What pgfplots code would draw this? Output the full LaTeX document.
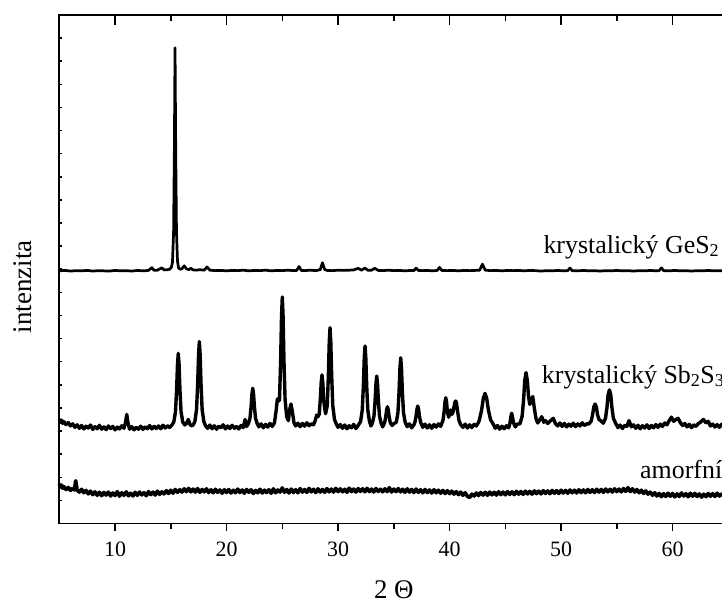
\documentclass[border=0pt]{standalone}
\usepackage{fontspec}
\setmainfont{Liberation Serif}
\usepackage{pgfplots}
\pgfplotsset{compat=1.18}
\pgfplotsset{
  common/.style={
    at={(59.3bp,80.5bp)}, anchor=south west,
    scale only axis, width=669bp, height=508.5bp,
    xmin=5, xmax=65, ymin=0, ymax=22, enlargelimits=false,
    axis line style={line width=1.6bp},
    every tick/.style={black, line width=1.5bp},
    /pgf/number format/assume math mode=true,
  }
}
\begin{document}
\begin{tikzpicture}
\useasboundingbox (0,0) rectangle (722bp,604bp);
\clip (0,0) rectangle (722bp,604bp);
% main axis with data and left ticks
\begin{axis}[common,
  xtick=\empty,
  ytick={1,...,21}, yticklabels={}, ytick pos=left, tick align=inside,
  major tick length=3bp,
  ylabel={intenzita},
  ylabel style={at={(rel axis cs:-0.055,0.4655)}, anchor=center, font=\fontsize{27}{30}\selectfont},
  clip=false,
]
\addplot[black, line width=2.7bp, line join=round] coordinates {
(5,10.93)(5.5,10.95)(6,10.92)(6.5,10.94)(7,10.93)(7.5,10.95)(8,10.92)(8.5,10.94)(9,10.93)(9.5,10.92)(10,10.95)(10.5,10.93)(11,10.94)(11.5,10.92)(12,10.95)(12.5,10.93)(13,10.95)(13.3,11.07)(13.5,10.95)(13.8,10.96)(14.2,11.06)(14.4,10.97)(14.7,10.98)(14.9,11.0)(15.05,11.08)(15.15,11.3)(15.25,12.6)(15.32,16.2)(15.38,20.58)(15.44,16.2)(15.51,12.6)(15.6,11.35)(15.7,11.05)(15.85,11.0)(16.0,11.02)(16.2,11.15)(16.4,11.02)(16.6,10.98)(16.8,11.04)(17.0,10.97)(17.3,10.96)(17.6,10.98)(18.0,10.96)(18.25,11.1)(18.5,10.96)(19,10.94)(19.5,10.95)(20,10.93)(20.5,10.95)(21,10.94)(21.5,10.96)(22,10.93)(22.5,10.95)(23,10.94)(23.5,10.96)(24,10.93)(24.5,10.95)(25,10.94)(25.5,10.96)(26,10.94)(26.3,10.95)(26.5,11.12)(26.7,10.95)(27,10.94)(27.5,10.96)(28,10.94)(28.4,10.98)(28.6,11.28)(28.8,10.99)(29,10.95)(29.5,10.94)(30,10.96)(30.5,10.95)(31,10.96)(31.4,10.97)(31.8,11.04)(32.1,10.96)(32.4,11.05)(32.7,10.95)(33.0,10.96)(33.3,11.04)(33.6,10.95)(34,10.94)(34.5,10.96)(35,10.94)(35.5,10.95)(36,10.93)(36.5,10.95)(36.8,10.94)(37.0,11.05)(37.2,10.95)(37.6,10.94)(38,10.95)(38.5,10.93)(38.9,10.95)(39.1,11.08)(39.3,10.95)(39.8,10.94)(40.3,10.95)(40.8,10.93)(41.3,10.95)(41.8,10.94)(42.3,10.95)(42.7,10.96)(42.95,11.22)(43.2,10.96)(43.7,10.94)(44.2,10.95)(44.7,10.93)(45.2,10.95)(45.7,10.94)(46.2,10.95)(46.7,10.93)(47.2,10.95)(47.7,10.94)(48.2,10.92)(48.7,10.94)(49.2,10.93)(49.7,10.95)(50.2,10.93)(50.6,10.94)(50.8,11.05)(51.0,10.94)(51.5,10.93)(52,10.95)(52.5,10.93)(53,10.94)(53.5,10.92)(54,10.94)(54.5,10.93)(55,10.95)(55.5,10.93)(56,10.94)(56.5,10.92)(57,10.94)(57.5,10.93)(58,10.95)(58.5,10.93)(58.8,10.94)(59.0,11.06)(59.2,10.94)(59.7,10.93)(60.2,10.95)(60.7,10.93)(61.2,10.94)(61.7,10.92)(62.2,10.94)(62.7,10.93)(63.2,10.95)(63.7,10.93)(64.2,10.94)(64.7,10.93)(65,10.94)
};
\addplot[black, line width=3.4bp, line join=round] coordinates {
(5.0,4.52)(5.1,4.38)(5.2,4.47)(5.3,4.33)(5.4,4.41)(5.6,4.28)(5.8,4.37)(6.0,4.22)(6.2,4.31)(6.4,4.16)(6.6,4.27)(6.8,4.12)(7.0,4.24)(7.2,4.09)(7.4,4.21)(7.6,4.13)(7.8,4.26)(8.0,4.07)(8.2,4.19)(8.4,4.10)(8.6,4.25)(8.8,4.08)(9.0,4.18)(9.2,4.06)(9.4,4.22)(9.6,4.11)(9.8,4.20)(10.0,4.05)(10.2,4.17)(10.4,4.09)(10.6,4.23)(10.8,4.12)(10.95,4.40)(11.05,4.72)(11.15,4.38)(11.3,4.08)(11.5,4.19)(11.7,4.05)(11.9,4.16)(12.1,4.08)(12.3,4.21)(12.5,4.07)(12.7,4.18)(12.9,4.10)(13.1,4.24)(13.3,4.09)(13.5,4.20)(13.7,4.11)(13.9,4.22)(14.1,4.10)(14.3,4.25)(14.5,4.13)(14.7,4.23)(14.9,4.15)(15.1,4.26)
(15.27,4.39)(15.42,4.83)(15.52,5.78)(15.60,6.89)(15.67,7.36)(15.74,6.89)(15.82,5.78)(15.92,4.83)(16.07,4.39)(16.25,4.26)(16.4,4.33)(16.57,4.50)(16.72,4.28)(16.9,4.22)(17.05,4.30)
(17.16,4.42)(17.31,4.93)(17.41,6.04)(17.49,7.32)(17.56,7.87)(17.63,7.32)(17.71,6.04)(17.81,4.93)(17.96,4.42)
(18.1,4.24)(18.3,4.12)(18.5,4.26)(18.7,4.10)(18.9,4.23)(19.1,4.08)(19.3,4.21)(19.5,4.14)(19.7,4.27)(19.9,4.09)(20.1,4.22)(20.3,4.11)(20.5,4.25)(20.7,4.12)(20.9,4.20)(21.1,4.09)(21.3,4.24)(21.5,4.15)(21.66,4.50)(21.8,4.20)
(21.95,4.32)(22.10,4.55)(22.20,5.04)(22.28,5.61)(22.35,5.85)(22.42,5.61)(22.50,5.04)(22.60,4.55)(22.75,4.32)
(22.9,4.18)(23.1,4.31)(23.3,4.14)(23.5,4.29)(23.7,4.17)(23.9,4.33)(24.1,4.20)(24.3,4.36)
(24.45,4.90)(24.56,5.39)(24.68,5.30)(24.75,5.36)(24.85,7.03)(24.93,8.97)(25.0,9.80)(25.07,8.97)(25.15,7.03)(25.25,5.36)(25.4,4.60)(25.55,4.45)(25.65,4.90)(25.78,5.17)(25.9,4.85)(26.05,4.35)(26.2,4.22)
(26.4,4.34)(26.6,4.19)(26.8,4.33)(27.0,4.21)(27.2,4.36)(27.4,4.23)(27.6,4.31)(27.8,4.27)(27.95,4.45)(28.08,4.69)(28.2,4.62)
(28.31,4.73)(28.41,5.37)(28.49,6.11)(28.56,6.43)(28.63,6.11)(28.71,5.37)(28.8,5.00)(28.88,4.75)
(29.03,5.09)(29.13,6.36)(29.21,7.84)(29.28,8.47)(29.35,7.84)(29.43,6.36)(29.53,5.09)(29.68,4.50)(29.85,4.30)
(30.0,4.16)(30.2,4.28)(30.4,4.12)(30.6,4.26)(30.8,4.10)(31.0,4.23)(31.2,4.14)(31.4,4.29)(31.6,4.11)(31.8,4.24)
(32.02,4.41)(32.17,4.90)(32.27,5.94)(32.35,7.16)(32.42,7.68)(32.49,7.16)(32.57,5.94)(32.67,4.90)(32.82,4.41)
(32.95,4.22)(33.07,4.33)(33.22,4.64)(33.32,5.29)(33.40,6.05)(33.47,6.38)(33.54,6.05)(33.62,5.29)(33.72,4.64)(33.87,4.33)(34.0,4.18)
(34.18,4.37)(34.28,4.63)(34.36,4.92)(34.43,5.05)(34.5,4.92)(34.58,4.63)(34.68,4.37)(34.85,4.24)(35.0,4.32)
(35.22,4.38)(35.37,4.79)(35.47,5.69)(35.55,6.72)(35.62,7.17)(35.69,6.72)(35.77,5.69)(35.87,4.79)(36.02,4.38)
(36.2,4.19)(36.4,4.31)(36.6,4.14)(36.8,4.27)
(36.9,4.39)(37.0,4.65)(37.08,4.95)(37.15,5.08)(37.22,4.95)(37.3,4.65)(37.4,4.39)
(37.6,4.16)(37.8,4.30)(38.0,4.13)(38.2,4.27)(38.4,4.12)(38.6,4.28)(38.8,4.17)(39.0,4.31)(39.2,4.20)
(39.41,4.46)(39.51,4.83)(39.59,5.26)(39.66,5.44)(39.73,5.26)(39.81,4.83)(39.92,4.60)(40.02,4.75)(40.1,4.91)(40.2,4.72)(40.3,4.80)(40.4,5.05)(40.48,5.24)(40.55,5.30)(40.62,5.22)(40.72,4.85)(40.85,4.45)(41.0,4.28)
(41.2,4.16)(41.4,4.30)(41.6,4.13)(41.8,4.27)(42.0,4.15)(42.2,4.29)(42.4,4.22)(42.6,4.38)
(42.68,4.49)(42.88,4.92)(43.03,5.42)(43.18,5.63)(43.33,5.42)(43.48,4.92)(43.68,4.49)(43.93,4.29)
(44.1,4.12)(44.3,4.24)(44.5,4.08)(44.7,4.21)(44.9,4.10)(45.1,4.23)(45.3,4.14)
(45.42,4.35)(45.5,4.62)(45.57,4.77)(45.64,4.62)(45.74,4.35)(45.9,4.18)(46.05,4.30)
(46.31,4.31)(46.51,4.64)(46.64,5.35)(46.74,6.17)(46.86,6.53)(46.98,6.17)(47.08,5.50)(47.2,5.15)(47.3,5.35)(47.46,5.49)(47.6,5.00)(47.75,4.55)(47.9,4.35)
(48.05,4.45)(48.27,4.62)(48.45,4.38)(48.6,4.45)(48.8,4.33)(49.0,4.42)(49.3,4.55)(49.5,4.32)(49.7,4.22)(49.9,4.35)(50.1,4.20)(50.3,4.33)(50.5,4.18)(50.7,4.30)(50.9,4.21)(51.1,4.34)(51.3,4.19)(51.5,4.31)(51.7,4.22)(51.9,4.36)(52.1,4.24)(52.3,4.31)
(52.5,4.31)(52.7,4.43)(52.83,4.71)(52.93,5.03)(53.05,5.17)(53.17,5.03)(53.27,4.71)(53.4,4.50)(53.55,4.45)
(53.79,4.34)(53.99,4.56)(54.12,5.03)(54.22,5.57)(54.34,5.78)(54.46,5.57)(54.56,5.03)(54.69,4.56)(54.89,4.34)
(55.1,4.15)(55.3,4.26)(55.5,4.11)(55.7,4.24)(55.9,4.20)(56.1,4.45)(56.3,4.18)(56.5,4.27)(56.7,4.12)(56.9,4.25)(57.1,4.10)(57.3,4.23)(57.5,4.13)(57.7,4.27)(57.9,4.11)(58.1,4.24)(58.3,4.14)(58.5,4.28)(58.7,4.16)(58.9,4.30)(59.1,4.20)(59.3,4.35)(59.5,4.27)(59.7,4.45)(59.9,4.60)(60.1,4.42)(60.3,4.50)(60.5,4.55)(60.7,4.36)(60.9,4.24)(61.1,4.33)(61.3,4.18)(61.5,4.29)(61.7,4.15)(61.9,4.27)(62.1,4.20)(62.3,4.32)(62.5,4.38)(62.77,4.50)(63.0,4.35)(63.2,4.42)(63.4,4.22)(63.6,4.30)(63.8,4.17)(64.0,4.28)(64.2,4.16)(64.4,4.29)(64.6,4.18)(64.8,4.26)(65.0,4.20)
};
\addplot[black, line width=3.6bp, line join=round] coordinates {
(5.0,1.72)(5.1,1.58)(5.2,1.66)(5.3,1.52)(5.4,1.60)(5.6,1.47)(5.8,1.56)(6.0,1.43)(6.2,1.52)(6.35,1.45)(6.47,1.85)(6.6,1.44)(6.8,1.36)(7.0,1.48)(7.2,1.33)(7.4,1.43)(7.6,1.28)(7.8,1.40)(8.0,1.25)(8.2,1.37)(8.4,1.22)(8.6,1.35)(8.8,1.20)(9.0,1.34)(9.2,1.23)(9.4,1.36)(9.6,1.19)(9.8,1.32)(10.0,1.21)(10.2,1.38)(10.4,1.18)(10.6,1.33)(10.8,1.22)(11.0,1.37)(11.2,1.20)(11.4,1.31)(11.6,1.19)(11.8,1.35)(12.0,1.22)(12.2,1.36)(12.4,1.24)(12.6,1.33)(12.8,1.20)(13.0,1.38)(13.2,1.25)(13.4,1.36)(13.6,1.23)(13.8,1.40)(14.0,1.26)(14.2,1.37)(14.4,1.28)(14.6,1.42)(14.8,1.30)(15.0,1.44)(15.2,1.31)(15.4,1.47)(15.6,1.35)(15.8,1.46)(16.0,1.36)(16.2,1.50)(16.4,1.38)(16.6,1.52)(16.8,1.37)(17.0,1.49)(17.2,1.36)(17.4,1.51)(17.6,1.35)(17.8,1.47)(18.0,1.37)(18.2,1.50)(18.4,1.34)(18.6,1.46)(18.8,1.33)(19.0,1.48)(19.2,1.35)(19.4,1.45)(19.6,1.31)(19.8,1.46)(20.0,1.34)(20.2,1.47)(20.4,1.32)(20.6,1.44)(20.8,1.33)(21.0,1.49)(21.2,1.34)(21.4,1.45)(21.6,1.31)(21.8,1.47)(22.0,1.35)(22.2,1.46)(22.4,1.30)(22.6,1.43)(22.8,1.33)(23.0,1.48)(23.2,1.32)(23.4,1.44)(23.6,1.34)(23.8,1.46)(24.0,1.31)(24.2,1.50)(24.4,1.33)(24.6,1.45)(24.8,1.36)(25.0,1.54)(25.2,1.35)(25.4,1.47)(25.6,1.32)(25.8,1.49)(26.0,1.34)(26.2,1.46)(26.4,1.33)(26.6,1.51)(26.8,1.36)(27.0,1.47)(27.2,1.35)(27.4,1.52)(27.6,1.37)(27.8,1.48)(28.0,1.34)(28.2,1.50)(28.4,1.36)(28.6,1.47)(28.8,1.35)(29.0,1.51)(29.2,1.37)(29.4,1.49)(29.6,1.36)(29.8,1.52)(30.0,1.38)(30.2,1.50)(30.4,1.37)(30.6,1.48)(30.8,1.35)(31.0,1.53)(31.2,1.38)(31.4,1.49)(31.6,1.36)(31.8,1.51)(32.0,1.39)(32.2,1.50)(32.4,1.37)(32.6,1.52)(32.8,1.38)(33.0,1.49)(33.2,1.36)(33.4,1.51)(33.6,1.39)(33.8,1.48)(34.0,1.37)(34.2,1.50)(34.4,1.38)(34.6,1.55)(34.8,1.36)(35.0,1.49)(35.2,1.38)(35.4,1.51)(35.6,1.37)(35.8,1.48)(36.0,1.35)(36.2,1.50)(36.4,1.36)(36.6,1.47)(36.8,1.34)(37.0,1.49)(37.2,1.35)(37.4,1.46)(37.6,1.33)(37.8,1.47)(38.0,1.34)(38.2,1.45)(38.4,1.32)(38.6,1.46)(38.8,1.33)(39.0,1.44)(39.2,1.31)(39.4,1.43)(39.6,1.30)(39.8,1.42)(40.0,1.29)(40.2,1.40)(40.4,1.27)(40.6,1.38)(40.8,1.25)(41.0,1.36)(41.2,1.22)(41.4,1.33)(41.6,1.18)(41.8,1.12)(42.0,1.27)(42.2,1.19)(42.4,1.32)(42.6,1.21)(42.8,1.34)(43.0,1.23)(43.2,1.35)(43.4,1.22)(43.6,1.36)(43.8,1.24)(44.0,1.35)(44.2,1.23)(44.4,1.37)(44.6,1.25)(44.8,1.36)(45.0,1.24)(45.2,1.38)(45.4,1.26)(45.6,1.37)(45.8,1.25)(46.0,1.39)(46.2,1.27)(46.4,1.38)(46.6,1.26)(46.8,1.40)(47.0,1.28)(47.2,1.39)(47.4,1.27)(47.6,1.41)(47.8,1.29)(48.0,1.40)(48.2,1.28)(48.4,1.42)(48.6,1.30)(48.8,1.41)(49.0,1.29)(49.2,1.43)(49.4,1.31)(49.6,1.42)(49.8,1.30)(50.0,1.44)(50.2,1.32)(50.4,1.43)(50.6,1.31)(50.8,1.45)(51.0,1.33)(51.2,1.44)(51.4,1.32)(51.6,1.46)(51.8,1.34)(52.0,1.45)(52.2,1.33)(52.4,1.47)(52.6,1.35)(52.8,1.46)(53.0,1.34)(53.2,1.48)(53.4,1.36)(53.6,1.47)(53.8,1.35)(54.0,1.49)(54.2,1.37)(54.4,1.48)(54.6,1.36)(54.8,1.50)(55.0,1.38)(55.2,1.49)(55.4,1.37)(55.6,1.51)(55.8,1.39)(56.0,1.55)(56.2,1.38)(56.4,1.50)(56.6,1.36)(56.8,1.47)(57.0,1.33)(57.2,1.44)(57.4,1.30)(57.6,1.41)(57.8,1.27)(58.0,1.36)(58.2,1.22)(58.4,1.33)(58.6,1.19)(58.8,1.30)(59.0,1.16)(59.2,1.29)(59.4,1.17)(59.6,1.31)(59.8,1.18)(60.0,1.30)(60.2,1.15)(60.4,1.28)(60.6,1.17)(60.8,1.32)(61.0,1.19)(61.2,1.29)(61.4,1.16)(61.6,1.31)(61.8,1.18)(62.0,1.30)(62.2,1.17)(62.4,1.28)(62.6,1.14)(62.8,1.27)(63.0,1.16)(63.2,1.30)(63.4,1.18)(63.6,1.29)(63.8,1.17)(64.0,1.31)(64.2,1.19)(64.4,1.28)(64.6,1.18)(64.8,1.30)(65.0,1.20)
};
\node[anchor=base west, font=\fontsize{26}{30}\selectfont, inner sep=0pt] at (axis cs:48.41,11.70) {krystalický GeS\textsubscript{2}};
\node[anchor=base west, font=\fontsize{26}{30}\selectfont, inner sep=0pt] at (axis cs:48.27,6.07) {krystalický Sb\textsubscript{2}S\textsubscript{3}};
\node[anchor=base west, font=\fontsize{26}{30}\selectfont, inner sep=0pt] at (axis cs:57.08,1.93) {amorfní};
\end{axis}
% bottom x axis: outward ticks, labels
\begin{axis}[common,
  axis x line*=bottom, axis y line=none,
  xtick={10,20,...,60}, minor x tick num=1,
  tick align=outside, major tick length=7bp, minor tick length=5bp,
  xticklabel style={font=\fontsize{22}{24}\selectfont, yshift=-8bp},
  xlabel={2 Θ},
  xlabel style={at={(rel axis cs:0.5,0)}, anchor=center, yshift=-66bp, font=\fontsize{27}{30}\selectfont},
]
\end{axis}
% top x axis: inward ticks
\begin{axis}[common,
  axis x line*=top, axis y line=none,
  xtick={10,20,...,60}, minor x tick num=1, xticklabels={},
  tick align=inside, major tick length=10bp, minor tick length=6bp,
]
\end{axis}
\end{tikzpicture}
\end{document}
